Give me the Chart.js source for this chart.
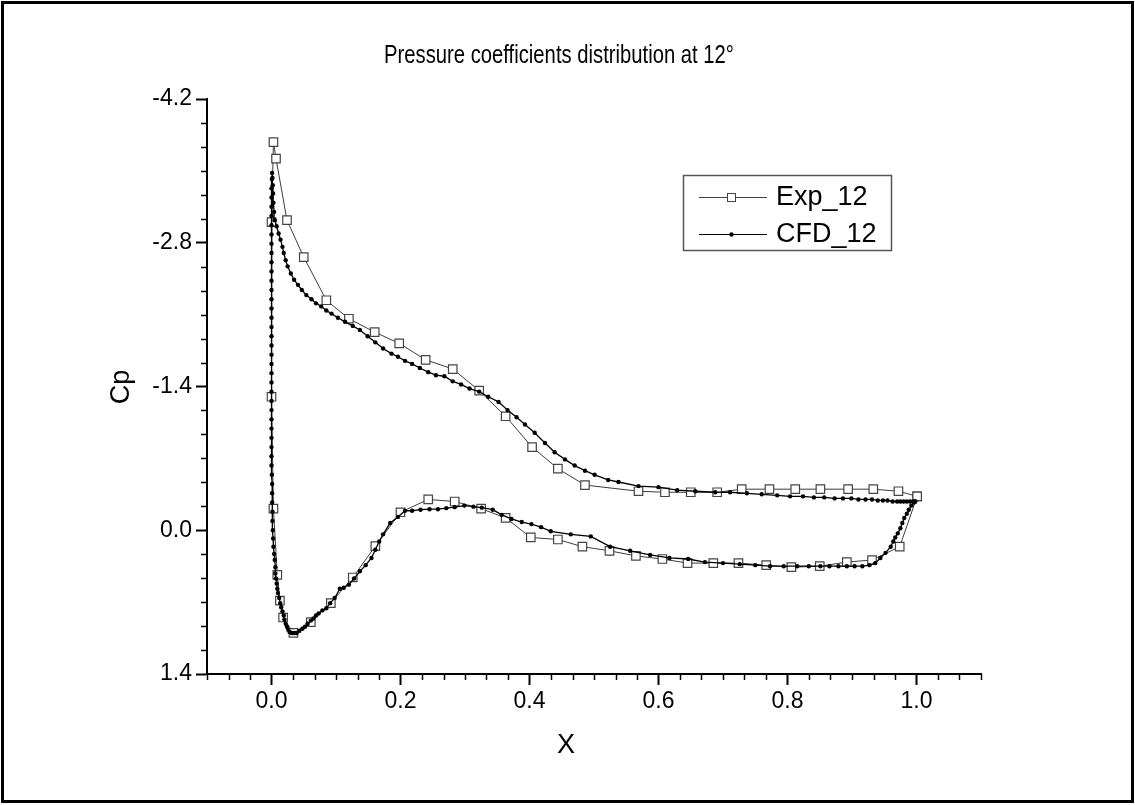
<!DOCTYPE html>
<html>
<head>
<meta charset="utf-8">
<title>Pressure coefficients distribution at 12°</title>
<script src="https://cdn.jsdelivr.net/npm/chart.js"></script>
<style>
  html, body { margin: 0; padding: 0; background: #fff; }
  canvas { display: block; }
</style>
</head>
<body>
<canvas id="cpChart" width="1135" height="805"></canvas>
<script>
// experimental points: upper surface TE -> LE, then lower surface LE -> TE
const expX = [
  1.001, 0.972, 0.933, 0.894, 0.851, 0.812, 0.772, 0.729, 0.691, 0.650,
  0.610, 0.569, 0.486, 0.444, 0.404, 0.363, 0.322, 0.281, 0.239, 0.198,
  0.160, 0.120, 0.085, 0.050, 0.024, 0.007, 0.003,
  0.000, 0.000, 0.003, 0.009, 0.013, 0.018, 0.034, 0.061, 0.092, 0.126,
  0.161, 0.200, 0.243, 0.284, 0.325, 0.363, 0.402, 0.444, 0.482, 0.524,
  0.565, 0.606, 0.645, 0.685, 0.724, 0.767, 0.806, 0.850, 0.892, 0.931,
  0.974, 1.001
];
const expCp = [
  -0.33, -0.38, -0.40, -0.40, -0.40, -0.40, -0.40, -0.40, -0.37, -0.37,
  -0.37, -0.38, -0.44, -0.60, -0.81, -1.11, -1.36, -1.57, -1.66, -1.82,
  -1.93, -2.06, -2.24, -2.66, -3.02, -3.62, -3.78,
  -3.00, -1.30, -0.21, 0.435, 0.685, 0.85, 1.00, 0.895, 0.71, 0.46,
  0.155, -0.175, -0.30, -0.28, -0.21, -0.12, 0.07, 0.09, 0.16, 0.20,
  0.25, 0.28, 0.32, 0.32, 0.32, 0.34, 0.36, 0.35, 0.31, 0.29,
  0.16, -0.33
];

// CFD upper surface, trailing edge -> suction peak
const cfdUpperX = [
  0.998, 0.995, 0.990, 0.985, 0.980, 0.975, 0.970, 0.963, 0.955, 0.948,
  0.940, 0.931, 0.921, 0.910, 0.899, 0.886, 0.873, 0.857, 0.841, 0.824,
  0.804, 0.784, 0.760, 0.737, 0.711, 0.688, 0.657, 0.629, 0.600, 0.569,
  0.538, 0.522, 0.501, 0.486, 0.470, 0.455, 0.439, 0.424, 0.408, 0.393,
  0.380, 0.366, 0.352, 0.336, 0.322, 0.307, 0.294, 0.281, 0.268, 0.255,
  0.243, 0.230, 0.218, 0.207, 0.196, 0.186, 0.173, 0.161, 0.149, 0.137,
  0.126, 0.114, 0.103, 0.093, 0.085, 0.077, 0.069, 0.062, 0.054, 0.047,
  0.041, 0.035, 0.030, 0.025, 0.022, 0.019, 0.017, 0.014, 0.011, 0.008,
  0.005, 0.004, 0.003, 0.0025, 0.002, 0.0015, 0.001
];
const cfdUpperCp = [
  -0.28, -0.28, -0.28, -0.28, -0.28, -0.28, -0.28, -0.28, -0.29, -0.29,
  -0.29, -0.30, -0.30, -0.30, -0.31, -0.31, -0.31, -0.32, -0.32, -0.33,
  -0.33, -0.34, -0.35, -0.36, -0.37, -0.37, -0.38, -0.39, -0.42, -0.43,
  -0.47, -0.49, -0.54, -0.58, -0.63, -0.69, -0.76, -0.85, -0.95, -1.03,
  -1.10, -1.17, -1.25, -1.30, -1.35, -1.38, -1.42, -1.45, -1.50, -1.51,
  -1.54, -1.58, -1.62, -1.65, -1.69, -1.72, -1.77, -1.83, -1.89, -1.95,
  -1.99, -2.03, -2.07, -2.11, -2.14, -2.18, -2.21, -2.25, -2.29, -2.34,
  -2.39, -2.44, -2.50, -2.57, -2.63, -2.70, -2.76, -2.83, -2.89, -2.96,
  -3.02, -3.10, -3.19, -3.28, -3.36, -3.43, -3.48
];

// CFD round the nose and along the lower surface back to the trailing edge
const cfdLowerX = [
  0.0005, 0, 0, 0, 0, 0, 0, 0, 0, 0,
  0, 0, 0, 0, 0, 0, 0, 0, 0, 0,
  0, 0, 0, 0, 0, 0, 0, 0, 0, 0,
  0, 0, 0.0005, 0.001, 0.001, 0.001, 0.0015, 0.0015, 0.002, 0.0025,
  0.003, 0.004, 0.005, 0.006, 0.006, 0.007, 0.008, 0.009, 0.010, 0.012,
  0.0135, 0.015, 0.017, 0.019, 0.020, 0.022, 0.024, 0.026, 0.028, 0.031,
  0.033, 0.036, 0.039, 0.043, 0.048, 0.052, 0.056, 0.061, 0.065, 0.069,
  0.073, 0.079, 0.085, 0.091, 0.098, 0.106, 0.112, 0.120, 0.128, 0.137,
  0.146, 0.155, 0.161, 0.167, 0.173, 0.184, 0.196, 0.207, 0.218, 0.231,
  0.245, 0.258, 0.271, 0.284, 0.299, 0.313, 0.326, 0.343, 0.357, 0.372,
  0.388, 0.403, 0.418, 0.433, 0.464, 0.495, 0.525, 0.556, 0.587, 0.617,
  0.646, 0.672, 0.700, 0.726, 0.750, 0.773, 0.794, 0.815, 0.833, 0.851,
  0.865, 0.879, 0.892, 0.904, 0.916, 0.927, 0.936, 0.944, 0.952, 0.960,
  0.964, 0.967, 0.971, 0.975, 0.978, 0.981, 0.985, 0.988, 0.992, 0.996,
  0.998
];
const cfdLowerCp = [
  -3.42, -3.33, -3.24, -3.15, -3.06, -2.97, -2.88, -2.79, -2.70, -2.61,
  -2.52, -2.43, -2.34, -2.25, -2.16, -2.07, -1.98, -1.89, -1.80, -1.71,
  -1.62, -1.53, -1.44, -1.35, -1.26, -1.17, -1.08, -0.99, -0.90, -0.81,
  -0.72, -0.63, -0.54, -0.45, -0.36, -0.27, -0.18, -0.09, 0.00, 0.08,
  0.16, 0.23, 0.29, 0.36, 0.42, 0.47, 0.52, 0.57, 0.61, 0.66,
  0.71, 0.75, 0.79, 0.83, 0.87, 0.91, 0.94, 0.97, 0.99, 1.00,
  1.00, 1.00, 1.00, 0.98, 0.96, 0.94, 0.91, 0.88, 0.86, 0.83,
  0.81, 0.78, 0.76, 0.71, 0.66, 0.57, 0.56, 0.53, 0.47, 0.40,
  0.34, 0.27, 0.19, 0.11, 0.04, -0.07, -0.13, -0.19, -0.19, -0.20,
  -0.205, -0.205, -0.215, -0.225, -0.24, -0.23, -0.22, -0.20, -0.15, -0.11,
  -0.08, -0.06, -0.03, 0.01, 0.04, 0.06, 0.16, 0.20, 0.24, 0.27,
  0.28, 0.31, 0.32, 0.33, 0.34, 0.35, 0.35, 0.35, 0.35, 0.35,
  0.35, 0.35, 0.35, 0.35, 0.35, 0.34, 0.32, 0.27, 0.22, 0.16,
  0.11, 0.07, 0.03, -0.02, -0.07, -0.12, -0.16, -0.20, -0.24, -0.27,
  -0.28
];

const xMajorTicks = [0.0, 0.2, 0.4, 0.6, 0.8, 1.0];
const yMajorTicks = [-4.2, -2.8, -1.4, 0.0, 1.4];
const minorDivisions = 6;

const FONT = "'Liberation Sans', Arial, sans-serif";

function toPoints(xs, ys) {
    return xs.map((x, i) => ({ x: x, y: ys[i] }));
}

const cfdPoints = toPoints(cfdUpperX, cfdUpperCp).concat(toPoints(cfdLowerX, cfdLowerCp));

// minor ticks, titles, legend and frame
const decorPlugin = {
    id: 'decor',
    afterDraw(chart) {
        const ctx = chart.ctx;
        const xs = chart.scales.x;
        const ys = chart.scales.y;
        const area = chart.chartArea;
        ctx.save();

        // minor ticks
        ctx.strokeStyle = '#000';
        ctx.lineWidth = 1.5;
        ctx.beginPath();
        const xStep = (xMajorTicks[1] - xMajorTicks[0]) / minorDivisions;
        for (let i = -3; i <= 33; i++) {
            if (i % minorDivisions === 0) continue;
            const px = Math.round(xs.getPixelForValue(i * xStep)) + 0.5;
            ctx.moveTo(px, area.bottom);
            ctx.lineTo(px, area.bottom + 6);
        }
        const yStep = (yMajorTicks[1] - yMajorTicks[0]) / minorDivisions;
        for (let i = 0; i <= 24; i++) {
            if (i % minorDivisions === 0) continue;
            const py = Math.round(ys.getPixelForValue(yMajorTicks[0] + i * yStep)) + 0.5;
            ctx.moveTo(area.left, py);
            ctx.lineTo(area.left - 6, py);
        }
        ctx.stroke();

        // titles (chart title condensed like the original)
        ctx.fillStyle = '#000';
        ctx.textAlign = 'center';
        ctx.textBaseline = 'middle';
        ctx.save();
        ctx.translate(559, 56);
        ctx.scale(0.81, 1);
        ctx.font = '25px ' + FONT;
        ctx.fillText('Pressure coefficients distribution at 12°', 0, 0);
        ctx.restore();

        ctx.font = '27px ' + FONT;
        ctx.fillText('X', 566, 746);
        ctx.save();
        ctx.translate(122, 387);
        ctx.rotate(-Math.PI / 2);
        ctx.fillText('Cp', 0, 0);
        ctx.restore();

        // legend
        ctx.strokeStyle = '#555';
        ctx.lineWidth = 1.5;
        ctx.strokeRect(683.5, 175.5, 208, 75);

        ctx.strokeStyle = '#444';
        ctx.lineWidth = 1;
        ctx.beginPath();
        ctx.moveTo(699, 197.5);
        ctx.lineTo(767, 197.5);
        ctx.stroke();
        ctx.fillStyle = '#fff';
        ctx.fillRect(727.5, 193.5, 8, 8);
        ctx.strokeRect(727.5, 193.5, 8, 8);

        ctx.strokeStyle = '#000';
        ctx.lineWidth = 1.2;
        ctx.beginPath();
        ctx.moveTo(699, 234.5);
        ctx.lineTo(767, 234.5);
        ctx.stroke();
        ctx.fillStyle = '#000';
        ctx.beginPath();
        ctx.arc(731.5, 234.5, 2.2, 0, Math.PI * 2);
        ctx.fill();

        ctx.textAlign = 'left';
        ctx.font = '27px ' + FONT;
        ctx.fillText('Exp_12', 776, 198);
        ctx.fillText('CFD_12', 776, 235);

        // outer frame
        ctx.strokeStyle = '#000';
        ctx.lineWidth = 3;
        ctx.strokeRect(2.5, 2.5, 1130, 799);

        ctx.restore();
    }
};

const config = {
    type: 'scatter',
    data: {
        datasets: [{
            label: 'Exp_12',
            data: toPoints(expX, expCp),
            showLine: true,
            tension: 0,
            borderColor: '#3c3c3c',
            borderWidth: 1,
            pointStyle: 'rect',
            pointRadius: 6,
            pointBackgroundColor: '#fff',
            pointBorderColor: '#444',
            pointBorderWidth: 1.2,
            order: 1
        }, {
            label: 'CFD_12',
            data: cfdPoints,
            showLine: true,
            tension: 0,
            borderColor: '#000',
            borderWidth: 1.3,
            pointStyle: 'circle',
            pointRadius: 2.2,
            pointBackgroundColor: '#000',
            pointBorderWidth: 0,
            order: 0
        }]
    },
    options: {
        responsive: false,
        animation: false,
        layout: {
            padding: { left: 0, right: 154, top: 99, bottom: 0 }
        },
        plugins: {
            legend: { display: false },
            title: { display: false },
            tooltip: { enabled: false }
        },
        scales: {
            x: {
                type: 'linear',
                min: -0.1,
                max: 1.1,
                afterBuildTicks: function(scale) {
                    scale.ticks = xMajorTicks.map(v => ({ value: v }));
                },
                afterFit: function(scale) {
                    scale.height = 131;
                },
                ticks: {
                    color: '#000',
                    font: { size: 23, family: FONT },
                    padding: 3,
                    callback: function(value) {
                        return Number(value).toFixed(1);
                    }
                },
                grid: {
                    drawOnChartArea: false,
                    drawTicks: true,
                    tickLength: 11,
                    tickWidth: 2,
                    tickColor: '#000'
                },
                border: { display: true, color: '#000', width: 2 }
            },
            y: {
                type: 'linear',
                reverse: true,
                min: -4.2,
                max: 1.4,
                afterBuildTicks: function(scale) {
                    scale.ticks = yMajorTicks.map(v => ({ value: v }));
                },
                afterFit: function(scale) {
                    scale.width = 207;
                },
                ticks: {
                    color: '#000',
                    font: { size: 23, family: FONT },
                    padding: 4,
                    callback: function(value) {
                        return Number(value).toFixed(1);
                    }
                },
                grid: {
                    drawOnChartArea: false,
                    drawTicks: true,
                    tickLength: 11,
                    tickWidth: 2,
                    tickColor: '#000'
                },
                border: { display: true, color: '#000', width: 2 }
            }
        }
    },
    plugins: [decorPlugin]
};

const ctx = document.getElementById('cpChart');
if (ctx) {
    new Chart(ctx.getContext('2d'), config);
}
</script>
</body>
</html>
